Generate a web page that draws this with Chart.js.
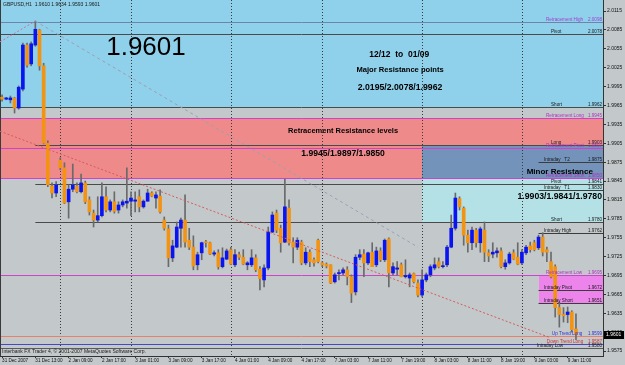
<!DOCTYPE html>
<html><head><meta charset="utf-8">
<script src="https://cdn.jsdelivr.net/npm/chart.js@4.4.0/dist/chart.umd.min.js"></script>
<style>
html,body{margin:0;padding:0;background:#c3c9cb;}
canvas{display:block;}
</style></head><body>
<canvas id="c" width="625" height="365"></canvas>
<script>
// ---------- DATA ----------
const symbolTitle = "GBPUSD,H1  1.9610 1.9634 1.9593 1.9601";
const copyright = "Interbank FX Trader 4, \u00a9 2001-2007 MetaQuotes Software Corp.";

const opens = [1.9978,1.9975,1.9974,1.9977,1.9961,1.9991,2.0061,2.0031,2.0061,2.0085,
2.0028,1.9905,1.9837,1.9826,1.9878,1.9866,1.9812,1.9832,1.9837,1.9828,
1.9842,1.9815,1.9794,1.9783,1.9790,1.9820,1.9799,1.9812,1.9799,1.9807,
1.9810,1.9813,1.9813,1.9820,1.9804,1.9813,1.9826,1.9818,1.9821,1.9783,
1.9769,1.9723,1.9740,1.9770,1.9783,1.9751,1.9740,1.9712,1.9731,1.9748,
1.9747,1.9729,1.9731,1.9709,1.9721,1.9736,1.9712,1.9728,1.9724,1.9712,
1.9712,1.9723,1.9705,1.9688,1.9707,1.9764,1.9794,1.9770,1.9748,1.9802,
1.9748,1.9740,1.9748,1.9715,1.9732,1.9720,1.9751,1.9715,1.9713,1.9712,
1.9685,1.9698,1.9699,1.9704,1.9693,1.9669,1.9724,1.9729,1.9715,1.9732,
1.9712,1.9734,1.9720,1.9753,1.9699,1.9705,1.9712,1.9693,1.9691,1.9698,
1.9683,1.9664,1.9688,1.9696,1.9707,1.9717,1.9709,1.9712,1.9740,1.9770,
1.9817,1.9802,1.9759,1.9747,1.9767,1.9747,1.9767,1.9731,1.9729,1.9731,
1.9734,1.9709,1.9715,1.9731,1.9724,1.9715,1.9731,1.9742,1.9747,1.9739,
1.9756,1.9736,1.9717,1.9709,1.9644,1.9633,1.9633,1.9637,1.9610];
const highs = [1.9982,1.9978,1.9980,1.9978,1.9996,2.0064,2.0064,2.0066,2.0099,2.0086,
2.0032,1.9909,1.9842,1.9844,1.9882,1.9874,1.9839,1.9872,1.9842,1.9856,
1.9845,1.9820,1.9799,1.9820,1.9842,1.9836,1.9815,1.9828,1.9812,1.9815,
1.9866,1.9828,1.9828,1.9831,1.9815,1.9832,1.9828,1.9828,1.9831,1.9788,
1.9775,1.9751,1.9780,1.9786,1.9823,1.9770,1.9758,1.9732,1.9748,1.9751,
1.9748,1.9734,1.9736,1.9739,1.9737,1.9740,1.9736,1.9732,1.9736,1.9717,
1.9736,1.9728,1.9709,1.9712,1.9772,1.9796,1.9799,1.9775,1.9848,1.9815,
1.9755,1.9755,1.9751,1.9739,1.9736,1.9723,1.9753,1.9717,1.9715,1.9712,
1.9699,1.9704,1.9707,1.9709,1.9696,1.9728,1.9736,1.9736,1.9732,1.9747,
1.9740,1.9739,1.9753,1.9755,1.9715,1.9717,1.9715,1.9720,1.9699,1.9699,
1.9688,1.9704,1.9699,1.9712,1.9723,1.9723,1.9717,1.9743,1.9791,1.9826,
1.9820,1.9804,1.9767,1.9772,1.9770,1.9772,1.9780,1.9736,1.9747,1.9739,
1.9739,1.9720,1.9732,1.9736,1.9747,1.9736,1.9743,1.9748,1.9751,1.9759,
1.9763,1.9740,1.9732,1.9712,1.9653,1.9644,1.9645,1.9639,1.9634];
const lows = [1.9972,1.9974,1.9969,1.9953,1.9959,1.9988,2.0026,2.0028,2.0059,2.0021,
1.9904,1.9836,1.9818,1.9820,1.9863,1.9809,1.9786,1.9828,1.9826,1.9826,
1.9809,1.9791,1.9772,1.9780,1.9788,1.9796,1.9796,1.9794,1.9794,1.9804,
1.9802,1.9790,1.9796,1.9796,1.9802,1.9813,1.9820,1.9802,1.9794,1.9767,
1.9709,1.9717,1.9739,1.9740,1.9740,1.9736,1.9704,1.9704,1.9720,1.9740,
1.9728,1.9726,1.9705,1.9707,1.9720,1.9712,1.9709,1.9720,1.9712,1.9704,
1.9709,1.9701,1.9672,1.9677,1.9704,1.9763,1.9763,1.9732,1.9747,1.9743,
1.9715,1.9736,1.9712,1.9712,1.9709,1.9710,1.9715,1.9709,1.9707,1.9682,
1.9683,1.9688,1.9696,1.9680,1.9652,1.9664,1.9720,1.9693,1.9712,1.9709,
1.9709,1.9717,1.9717,1.9677,1.9696,1.9696,1.9693,1.9691,1.9677,1.9683,
1.9661,1.9661,1.9685,1.9693,1.9704,1.9707,1.9707,1.9709,1.9739,1.9767,
1.9799,1.9743,1.9732,1.9736,1.9740,1.9732,1.9717,1.9717,1.9723,1.9724,
1.9707,1.9705,1.9713,1.9720,1.9712,1.9712,1.9728,1.9732,1.9734,1.9736,
1.9726,1.9717,1.9691,1.9629,1.9613,1.9621,1.9620,1.9605,1.9593];
const closes = [1.9975,1.9977,1.9977,1.9961,1.9994,2.0061,2.0029,2.0063,2.0086,2.0028,
1.9905,1.9839,1.9826,1.9839,1.9866,1.9810,1.9832,1.9839,1.9828,1.9842,
1.9812,1.9796,1.9783,1.9790,1.9820,1.9799,1.9812,1.9797,1.9807,1.9812,
1.9813,1.9818,1.9815,1.9804,1.9813,1.9826,1.9821,1.9823,1.9796,1.9770,
1.9723,1.9742,1.9772,1.9783,1.9748,1.9740,1.9710,1.9728,1.9747,1.9747,
1.9729,1.9731,1.9709,1.9723,1.9734,1.9713,1.9728,1.9724,1.9713,1.9715,
1.9723,1.9704,1.9690,1.9707,1.9764,1.9791,1.9767,1.9747,1.9804,1.9747,
1.9740,1.9751,1.9715,1.9732,1.9717,1.9715,1.9717,1.9712,1.9710,1.9683,
1.9696,1.9699,1.9704,1.9693,1.9667,1.9724,1.9728,1.9715,1.9731,1.9709,
1.9734,1.9720,1.9751,1.9699,1.9709,1.9707,1.9693,1.9695,1.9696,1.9685,
1.9664,1.9688,1.9696,1.9709,1.9712,1.9709,1.9710,1.9740,1.9770,1.9818,
1.9804,1.9759,1.9747,1.9767,1.9747,1.9769,1.9732,1.9726,1.9732,1.9734,
1.9709,1.9715,1.9729,1.9721,1.9713,1.9732,1.9740,1.9736,1.9736,1.9756,
1.9732,1.9732,1.9693,1.9644,1.9633,1.9631,1.9637,1.9609,1.9601];

// time axis: bar index of each label and its text
const timeTickIndex = [0,8,16,24,32,40,48,56,64,72,80,88,96,104,112,120,128,136];
const timeTickLabels = ["31 Dec 2007","31 Dec 13:00","2 Jan 09:00","2 Jan 17:00","3 Jan 01:00","3 Jan 09:00","3 Jan 17:00","4 Jan 01:00","4 Jan 09:00","4 Jan 17:00","7 Jan 03:00","7 Jan 11:00","7 Jan 19:00","8 Jan 03:00","8 Jan 11:00","8 Jan 19:00","9 Jan 03:00","9 Jan 11:00"];
// first bar of each new day (period separators)
const daySeparators = [14,31,55,77,101,125];
// price axis ticks
const priceTicks = [2.0115,2.0085,2.0055,2.0025,1.9995,1.9965,1.9935,1.9905,1.9875,1.9845,1.9815,1.9785,1.9755,1.9725,1.9695,1.9665,1.9635,1.9605,1.9575];

// horizontal levels
const levelNames = ["Retracement High","Pivot","Short","Retracement Long","Long","Retracement Pivot","Intraday   T2","Retracement Short","Pivot","Intraday   T1","Short","Intraday High","Retracement Low","Intraday Pivot","Intraday Short","Up Trend Long","Down Trend Long","Intraday Low"];
const levelValues = [2.0098,2.0078,1.9962,1.9945,1.9903,1.9897,1.9875,1.9850,1.9841,1.9830,1.9780,1.9762,1.9695,1.9672,1.9651,1.9599,1.9587,1.9580];
const levelStartBar = [-0.5,-0.5,-0.5,-0.5,8,-0.5,129,-0.5,8,129,8,129,-0.5,129,129,-0.5,-0.5,-0.5];
const levelKinds = ["retrHigh","pivot","pivot","retr","pivot","retr","intraday","retr","pivot","intraday","pivot","intraday","retr","intraday","intraday","up","down","low"];

// shaded zones (price ranges from a starting bar to the right edge)
const zoneKinds = ["major","retrZone","minorTop","minorLow","intradayZone"];
const zoneHigh = [2.0133,1.9945,1.9903,1.9850,1.9695];
const zoneLow  = [1.9962,1.9850,1.9850,1.9780,1.9651];
const zoneStartBar = [-0.5,-0.5,101,101,129];

// trend lines [bar, price] end points
const trendDown = [{x:-0.5,y:1.9924},{x:131.5,y:1.9597}];
const trendFromHigh = [{x:8,y:2.0099},{x:100,y:1.9740}];
const trendToHigh = [{x:-0.5,y:2.0066},{x:8,y:2.0099}];

// free text notes
const noteTexts = ["1.9601","12/12  to  01/09","Major Resistance points","2.0195/2.0078/1.9962","Retracement Resistance levels","1.9945/1.9897/1.9850","Minor Resistance","1.9903/1.9841/1.9780"];
const noteBar = [34.6,95.5,95.7,95.7,82.0,82.0,134.1,134.1];
const notePrice = [2.0056,2.0045,2.0021,1.9994,1.9925,1.9888,1.9859,1.9820];

// ---------- STYLES ----------
const FONT = "'Liberation Sans', Arial, sans-serif";
const UP = '#0a14f0', DOWN = '#f39312', WICK = '#6a6a6a';
const zoneColor = {major:'#8fd0ea', retrZone:'#ef8a8a', minorTop:'#7393bb', minorLow:'#b4e1e6', intradayZone:'#ec84ec'};
const lineColor = {retrHigh:'#6a86aa', pivot:'#4a4a4a', retr:'#cc44cc', intraday:'#3c3c3c', up:'#e8806a', down:'#4848c0', low:'#5a5a5a'};
const textColor = {retrHigh:'#a040d0', pivot:'#1a1a1a', retr:'#b030c0', intraday:'#1a1a1a', up:'#3030d0', down:'#d03030', low:'#1a1a1a'};
const nameBar = {retrHigh:130.8, pivot:132.0, retr:130.8, intraday:130.3, up:132.2, down:131.0, low:128.6};
const noteFonts = ["26px "+FONT,"bold 8.5px "+FONT,"bold 7.6px "+FONT,"bold 8.7px "+FONT,"bold 7.5px "+FONT,"bold 8.6px "+FONT,"bold 8px "+FONT,"bold 8.7px "+FONT];

const bodyData = opens.map((o,i)=>({x:i, y:[o, closes[i]]}));
const wickData = highs.map((h,i)=>({x:i, y:[lows[i], h]}));
const bodyColors = opens.map((o,i)=> closes[i] >= o ? UP : DOWN);

const decor = {
  id:'decor',
  beforeDatasetsDraw(chart){
    const {ctx, chartArea:a, scales:{x,y}} = chart;
    ctx.save();
    ctx.beginPath(); ctx.rect(a.left,a.top,a.width,a.height); ctx.clip();
    zoneKinds.forEach((k,i)=>{
      const x0 = Math.round(x.getPixelForValue(zoneStartBar[i]));
      const y0 = Math.round(y.getPixelForValue(zoneHigh[i]));
      const y1 = Math.round(y.getPixelForValue(zoneLow[i]));
      ctx.fillStyle = zoneColor[k];
      ctx.fillRect(x0, y0, a.right-x0, y1-y0);
    });
    ctx.strokeStyle = '#3a3a3a'; ctx.lineWidth = 1; ctx.setLineDash([1,2]);
    daySeparators.forEach(b=>{
      const px = Math.round(x.getPixelForValue(b))+0.5;
      ctx.beginPath(); ctx.moveTo(px,a.top); ctx.lineTo(px,a.bottom); ctx.stroke();
    });
    ctx.setLineDash([]);
    levelValues.forEach((v,i)=>{
      const py = Math.round(y.getPixelForValue(v))+0.5;
      const x0 = x.getPixelForValue(levelStartBar[i]);
      ctx.strokeStyle = lineColor[levelKinds[i]];
      ctx.beginPath(); ctx.moveTo(x0,py); ctx.lineTo(a.right,py); ctx.stroke();
    });
    ctx.strokeStyle = '#3a3a3a';
    ctx.beginPath(); ctx.moveTo(a.left+0.5,a.top); ctx.lineTo(a.left+0.5,a.bottom); ctx.stroke();
    ctx.restore();
  },
  afterDatasetsDraw(chart){
    const {ctx, chartArea:a, scales:{x,y}} = chart;
    ctx.save();
    ctx.textBaseline = 'bottom';
    ctx.font = '4.6px '+FONT;
    levelValues.forEach((v,i)=>{
      const k = levelKinds[i];
      const py = Math.round(y.getPixelForValue(v));
      ctx.fillStyle = textColor[k];
      ctx.textAlign = 'left';
      ctx.fillText(levelNames[i], x.getPixelForValue(nameBar[k]), py);
      ctx.textAlign = 'right';
      ctx.fillText(v.toFixed(4), a.right-1, py);
    });
    ctx.textAlign = 'center'; ctx.textBaseline = 'middle'; ctx.fillStyle = '#000';
    noteTexts.forEach((t,i)=>{
      ctx.font = noteFonts[i];
      ctx.fillText(t, x.getPixelForValue(noteBar[i]), y.getPixelForValue(notePrice[i]));
    });
    ctx.restore();
  },
  afterDraw(chart){
    const {ctx, chartArea:a, scales:{y}} = chart;
    ctx.save();
    ctx.font = '5px '+FONT; ctx.textBaseline='middle'; ctx.textAlign='left';
    ctx.fillStyle = '#1a1a1a';
    ctx.fillText(symbolTitle, 3, 5);
    ctx.fillText(copyright, 2, 352);
    const last = closes[closes.length-1];
    const py = Math.round(y.getPixelForValue(last));
    ctx.fillStyle = '#000';
    ctx.fillRect(a.right+1, py-4, 20, 8);
    ctx.fillStyle = '#fff';
    ctx.fillText(last.toFixed(4), a.right+3, py);
    ctx.restore();
  }
};

new Chart(document.getElementById('c'), {
  data: {
    datasets: [
      {type:'line', data: trendDown, borderColor:'#d85a5a', borderWidth:1, borderDash:[2,2], pointRadius:0, order:0},
      {type:'line', data: trendFromHigh, borderColor:'#9e9eb4', borderWidth:1, borderDash:[3,3], pointRadius:0, order:0},
      {type:'line', data: trendToHigh, borderColor:'#d070a0', borderWidth:1, borderDash:[2,2], pointRadius:0, order:0},
      {type:'bar', data: bodyData, backgroundColor: bodyColors, borderWidth:0, barThickness:3, minBarLength:1, grouped:false, order:1},
      {type:'bar', data: wickData, backgroundColor: WICK, borderWidth:0, barThickness:1, grouped:false, order:2}
    ]
  },
  options: {
    responsive:false, animation:false, devicePixelRatio:1,
    layout:{padding:0},
    plugins:{legend:{display:false}, tooltip:{enabled:false}},
    scales:{
      x:{type:'linear', min:-0.5, max:144.5, bounds:'data', position:'bottom', offset:false,
        afterBuildTicks: s => { s.ticks = timeTickIndex.map(v=>({value:v})); },
        afterFit: s => { s.height = 9; s.paddingLeft = 0; s.paddingRight = 0; },
        ticks:{autoSkip:false, maxRotation:0, minRotation:0, align:'start', padding:0, color:'#111',
          font:{size:4.6, family:FONT},
          callback: v => timeTickLabels[timeTickIndex.indexOf(v)]},
        grid:{offset:false, drawOnChartArea:false, tickLength:2, color:'#333'},
        border:{color:'#333'}
      },
      y:{type:'linear', position:'right', min:1.956715, max:2.01325, bounds:'data',
        afterBuildTicks: s => { s.ticks = priceTicks.map(v=>({value:v})); },
        afterFit: s => { s.width = 22; s.paddingTop = 0; s.paddingBottom = 0; },
        ticks:{padding:1, color:'#111', font:{size:5, family:FONT}, callback: v => v.toFixed(4)},
        grid:{drawOnChartArea:false, tickLength:3, color:'#333'},
        border:{color:'#333'}
      }
    }
  },
  plugins:[decor]
});
</script>
</body></html>
